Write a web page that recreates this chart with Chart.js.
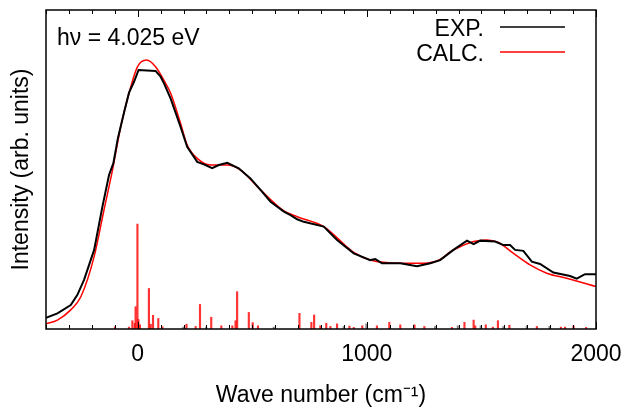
<!DOCTYPE html>
<html>
<head>
<title>Vibronic spectrum</title>
<script src="https://cdn.jsdelivr.net/npm/chart.js@4.4.0/dist/chart.umd.min.js"></script>
<style>
  body { margin: 0; background: #fff; }
</style>
</head>
<body>
<canvas id="chart" width="629" height="407"></canvas>
<script>
var expX = [-400, -350, -292, -263, -234, -190, -154, -125, -106, -86, -60, -38, -16, 4, 78, 100, 115, 144, 187, 216, 260, 289, 325, 354, 391, 441, 492, 536, 580, 638, 667, 696, 725, 812, 870, 943, 1015, 1037, 1066, 1146, 1219, 1277, 1320, 1378, 1437, 1466, 1495, 1560, 1596, 1625, 1647, 1683, 1720, 1756, 1814, 1887, 1916, 1952, 2000];
var expY = [0.035, 0.049, 0.075, 0.107, 0.154, 0.248, 0.383, 0.483, 0.520, 0.599, 0.677, 0.740, 0.775, 0.812, 0.809, 0.791, 0.770, 0.722, 0.634, 0.571, 0.524, 0.516, 0.504, 0.514, 0.521, 0.504, 0.472, 0.436, 0.399, 0.368, 0.357, 0.344, 0.336, 0.321, 0.279, 0.237, 0.216, 0.219, 0.206, 0.206, 0.197, 0.206, 0.216, 0.248, 0.277, 0.266, 0.277, 0.274, 0.263, 0.263, 0.248, 0.245, 0.211, 0.204, 0.177, 0.166, 0.158, 0.172, 0.172];

// calculated envelope
var calcX = [-400, -350, -292, -248, -190, -147, -110, -74, -38, -1, 39, 78, 122, 144, 187, 216, 260, 318, 391, 449, 536, 638, 696, 812, 943, 1015, 1146, 1248, 1320, 1364, 1408, 1466, 1524, 1574, 1640, 1712, 1785, 1872, 2000];
var calcY = [0.016, 0.028, 0.060, 0.101, 0.227, 0.373, 0.498, 0.634, 0.739, 0.822, 0.843, 0.822, 0.770, 0.739, 0.645, 0.577, 0.535, 0.514, 0.514, 0.498, 0.436, 0.370, 0.352, 0.321, 0.240, 0.216, 0.206, 0.206, 0.218, 0.242, 0.258, 0.274, 0.279, 0.271, 0.237, 0.201, 0.175, 0.159, 0.133];

// stick spectrum (red) and the grey sticks
var stickX = [-99, -38, -23, -13, -9, -1, 3, 10, 49, 57, 67, 90, 108, 213, 253, 272, 321, 365, 413, 427, 434, 485, 502, 525, 706, 758, 770, 797, 823, 841, 870, 924, 943, 980, 1044, 1098, 1146, 1208, 1251, 1371, 1426, 1466, 1473, 1519, 1550, 1572, 1622, 1742, 1847, 1865, 1902, 1957];
var stickY = [0.007, 0.006, 0.026, 0.018, 0.070, 0.329, 0.030, 0.013, 0.127, 0.015, 0.043, 0.033, 0.007, 0.015, 0.008, 0.077, 0.037, 0.010, 0.010, 0.026, 0.117, 0.052, 0.020, 0.010, 0.049, 0.021, 0.044, 0.010, 0.018, 0.008, 0.016, 0.009, 0.005, 0.010, 0.010, 0.021, 0.013, 0.013, 0.008, 0.005, 0.021, 0.028, 0.010, 0.013, 0.006, 0.026, 0.012, 0.008, 0.006, 0.006, 0.010, 0.005];
var greyX = [199, 299, 594, 899, 998, 1298, 1397, 1497, 1596, 1698, 1797];
var greyY = [0.006, 0.006, 0.006, 0.008, 0.016, 0.008, 0.010, 0.010, 0.008, 0.010, 0.008];

var annotation = 'hν = 4.025 eV';
var FONT = '"Liberation Sans", Arial, sans-serif';

function pts(xs, ys) {
    return xs.map(function(x, i) { return {x: x, y: ys[i]}; });
}

// box, inward ticks, label and the line-on-the-right legend
var frame = {
    id: 'frame',
    afterDatasetsDraw: function(chart) {
        var ctx = chart.ctx, a = chart.chartArea, x = chart.scales.x;
        ctx.save();
        ctx.strokeStyle = '#000';
        ctx.lineWidth = 1.5;
        ctx.strokeRect(a.left, a.top, a.right - a.left, a.bottom - a.top);
        ctx.lineWidth = 1;
        x.ticks.forEach(function(t) {
            var px = Math.round(x.getPixelForValue(t.value)) + 0.5;
            var len = t.value % 1000 === 0 ? 7 : 4;
            ctx.beginPath();
            ctx.moveTo(px, a.bottom); ctx.lineTo(px, a.bottom - len);
            ctx.moveTo(px, a.top); ctx.lineTo(px, a.top + len);
            ctx.stroke();
        });

        ctx.font = '23px ' + FONT;
        ctx.fillStyle = '#000';
        ctx.textBaseline = 'alphabetic';
        ctx.textAlign = 'left';
        ctx.fillText(annotation, 57, 45);

        ctx.textAlign = 'right';
        [0, 1].forEach(function(i) {
            var ds = chart.data.datasets[i];
            var y = 27 + i * 25;
            ctx.fillText(ds.label, 484, y + 9);
            ctx.strokeStyle = ds.borderColor;
            ctx.lineWidth = 1.5;
            ctx.beginPath();
            ctx.moveTo(500, y); ctx.lineTo(565, y);
            ctx.stroke();
        });
        ctx.restore();
    }
};

var ctx = document.getElementById('chart').getContext('2d');
var chart = new Chart(ctx, {
    type: 'scatter',
    data: {
        datasets: [
            {label: 'EXP.', data: pts(expX, expY), showLine: true, borderColor: '#000000',
             borderWidth: 2, pointRadius: 0, tension: 0, order: 1},
            {label: 'CALC.', data: pts(calcX, calcY), showLine: true, borderColor: '#ff0000',
             borderWidth: 1.5, pointRadius: 0, cubicInterpolationMode: 'monotone', order: 2},
            {type: 'bar', label: 'sticks', data: pts(stickX, stickY), backgroundColor: 'rgba(255,0,0,0.8)',
             barThickness: 1.5, grouped: false, order: 3},
            {type: 'bar', label: 'grey', data: pts(greyX, greyY), backgroundColor: 'rgba(0,0,0,0.45)',
             barThickness: 1.5, grouped: false, order: 4}
        ]
    },
    options: {
        responsive: false,
        animation: false,
        layout: {padding: {top: 10, right: 33, left: 0, bottom: 0}},
        plugins: {legend: {display: false}, tooltip: {enabled: false}},
        scales: {
            x: {
                type: 'linear', min: -400, max: 2000, offset: false,
                grid: {display: false, drawTicks: false, offset: false},
                border: {display: false},
                ticks: {
                    stepSize: 100, autoSkip: false, maxRotation: 0, padding: 12,
                    color: '#000', font: {family: FONT, size: 23},
                    callback: function(v) { return v % 1000 === 0 ? String(v) : ''; }
                },
                title: {display: true, text: 'Wave number (cm⁻¹)', color: '#000',
                        font: {family: FONT, size: 23, lineHeight: 1}, padding: 0},
                afterFit: function(s) { s.height = 78; s.paddingLeft = 0; s.paddingRight = 0; }
            },
            y: {
                min: 0, max: 1,
                grid: {display: false, drawTicks: false},
                border: {display: false},
                ticks: {display: false},
                title: {display: true, text: 'Intensity (arb. units)', color: '#000',
                        font: {family: FONT, size: 23, lineHeight: 1}, padding: {top: 10, bottom: 0}},
                afterFit: function(s) { s.width = 46; s.paddingTop = 0; s.paddingBottom = 0; }
            }
        }
    },
    plugins: [frame]
});
</script>
</body>
</html>
